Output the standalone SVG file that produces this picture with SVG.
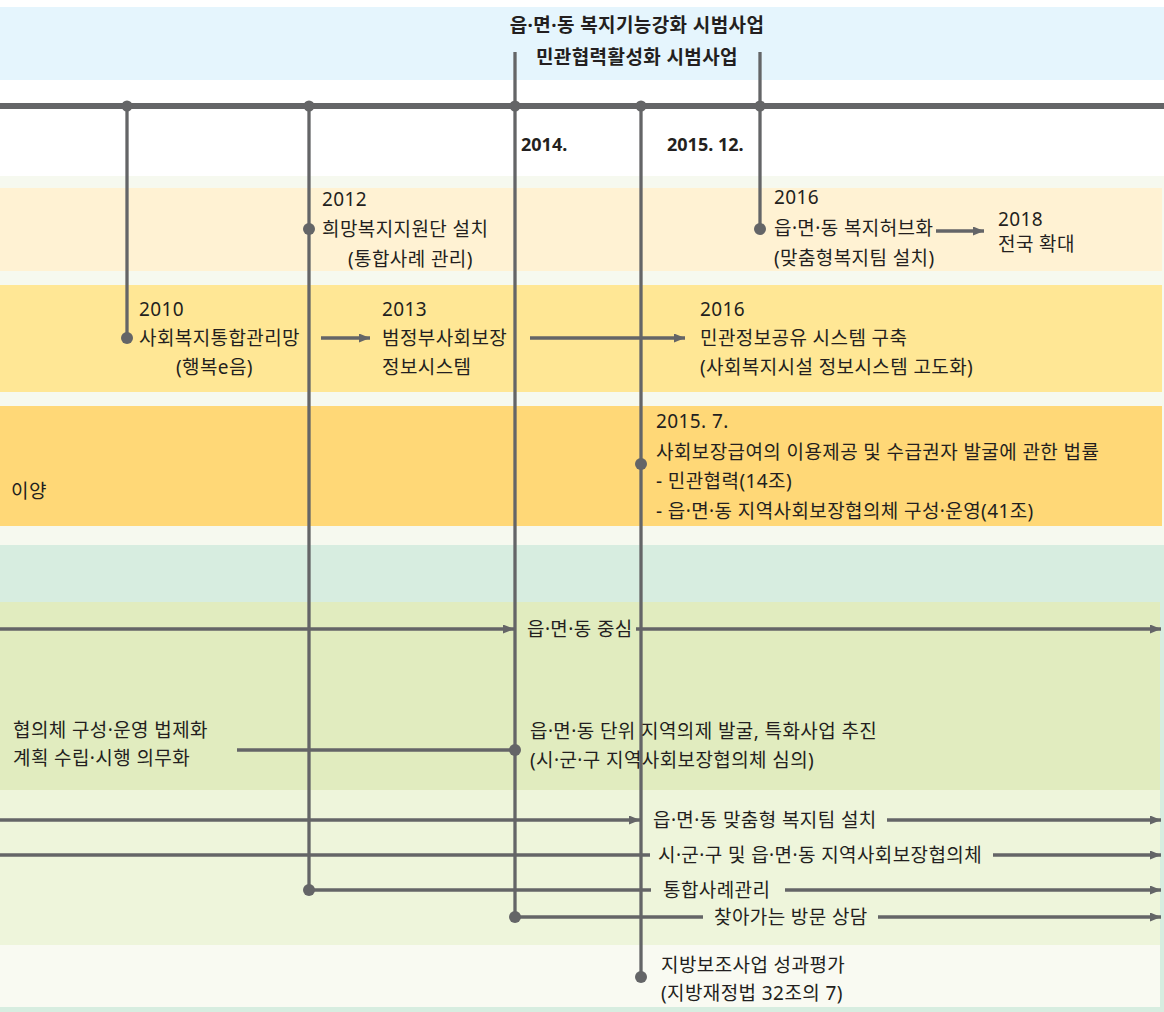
<svg xmlns="http://www.w3.org/2000/svg" width="1164" height="1012" viewBox="0 0 1164 1012">
<style>
text{font-family:"Noto Sans","Noto Sans CJK KR",sans-serif;font-size:19px;letter-spacing:0.4px;fill:#231f20}
.b{font-weight:bold}
.y{font-size:18px;letter-spacing:0}
.ln{stroke:#646567;stroke-width:3.3;fill:none}
.main{stroke:#646567;stroke-width:6;fill:none}
.dot{fill:#646567}
</style>
<defs>
<marker id="ah" markerUnits="userSpaceOnUse" markerWidth="12" markerHeight="10" refX="11" refY="4.5" orient="auto">
<path d="M0,0 L11,4.5 L0,9 z" fill="#646567"/>
</marker>
</defs>
<g id="background">
<rect x="0" y="0" width="1164" height="1012" fill="#ffffff"/>
<rect x="0" y="7" width="1164" height="73" fill="#e5f5fd"/>
<rect x="0" y="176" width="1164" height="369" fill="#f6f9ef"/>
<rect x="0" y="545" width="1164" height="467" fill="#d7ede0"/>
<rect x="0" y="188" width="1162" height="83" fill="#fff2d3"/>
<rect x="0" y="285" width="1162" height="107" fill="#ffe795"/>
<rect x="0" y="406" width="1162" height="120" fill="#ffd877"/>
<rect x="0" y="602" width="1160" height="188" fill="#e1ecbf"/>
<rect x="0" y="790" width="1160" height="155" fill="#eef5db"/>
<rect x="0" y="945" width="1160" height="62" fill="#f9faf2"/>
</g>
<g id="connectors">
<line class="main" x1="0" y1="106" x2="1164" y2="106"/>
<line class="ln" x1="127" y1="106" x2="127" y2="338"/>
<line class="ln" x1="309" y1="106" x2="309" y2="890"/>
<line class="ln" x1="515" y1="52" x2="515" y2="917"/>
<line class="ln" x1="641" y1="106" x2="641" y2="977"/>
<line class="ln" x1="760" y1="52" x2="760" y2="229"/>
<line class="ln" x1="321" y1="338" x2="370" y2="338" marker-end="url(#ah)"/>
<line class="ln" x1="530" y1="338" x2="685" y2="338" marker-end="url(#ah)"/>
<line class="ln" x1="936" y1="231" x2="984" y2="231" marker-end="url(#ah)"/>
<line class="ln" x1="0" y1="629" x2="514" y2="629" marker-end="url(#ah)"/>
<line class="ln" x1="636" y1="629" x2="1161" y2="629" marker-end="url(#ah)"/>
<line class="ln" x1="237" y1="750" x2="515" y2="750"/>
<line class="ln" x1="0" y1="820" x2="640" y2="820" marker-end="url(#ah)"/>
<line class="ln" x1="887" y1="820" x2="1161" y2="820" marker-end="url(#ah)"/>
<line class="ln" x1="0" y1="855" x2="650" y2="855"/>
<line class="ln" x1="993" y1="855" x2="1161" y2="855" marker-end="url(#ah)"/>
<line class="ln" x1="309" y1="890" x2="651" y2="890"/>
<line class="ln" x1="785" y1="890" x2="1161" y2="890" marker-end="url(#ah)"/>
<line class="ln" x1="515" y1="917" x2="703" y2="917"/>
<line class="ln" x1="878" y1="917" x2="1161" y2="917" marker-end="url(#ah)"/>
<circle class="dot" cx="127" cy="106" r="5.5"/>
<circle class="dot" cx="309" cy="106" r="5.5"/>
<circle class="dot" cx="515" cy="106" r="5.5"/>
<circle class="dot" cx="641" cy="106" r="5.5"/>
<circle class="dot" cx="760" cy="106" r="5.5"/>
<circle class="dot" cx="309" cy="229" r="6"/>
<circle class="dot" cx="760" cy="229" r="6"/>
<circle class="dot" cx="127" cy="338" r="6"/>
<circle class="dot" cx="641" cy="464" r="6"/>
<circle class="dot" cx="515" cy="750" r="6"/>
<circle class="dot" cx="309" cy="890" r="6"/>
<circle class="dot" cx="515" cy="917" r="6"/>
<circle class="dot" cx="641" cy="977" r="6"/>
</g>
<g id="title">
<text class="b" x="637" y="32" text-anchor="middle">읍·면·동 복지기능강화 시범사업</text>
<text class="b" x="637" y="64" text-anchor="middle">민관협력활성화 시범사업</text>
</g>
<g id="year-2014"><text class="b y" x="521" y="151">2014.</text></g>
<g id="year-2015-12"><text class="b y" x="667" y="151">2015. 12.</text></g>
<g id="node-2012">
<text x="322" y="206">2012</text>
<text x="322" y="236">희망복지지원단 설치</text>
<text x="348" y="266">(통합사례 관리)</text>
</g>
<g id="node-2016-hub">
<text x="774" y="204">2016</text>
<text x="774" y="235">읍·면·동 복지허브화</text>
<text x="774" y="265">(맞춤형복지팀 설치)</text>
</g>
<g id="node-2018">
<text x="998" y="226">2018</text>
<text x="998" y="251">전국 확대</text>
</g>
<g id="node-2010">
<text x="139" y="316">2010</text>
<text x="139" y="345">사회복지통합관리망</text>
<text x="176" y="374">(행복e음)</text>
</g>
<g id="node-2013">
<text x="382" y="316">2013</text>
<text x="382" y="345">범정부사회보장</text>
<text x="382" y="374">정보시스템</text>
</g>
<g id="node-2016-info">
<text x="700" y="316">2016</text>
<text x="700" y="345">민관정보공유 시스템 구축</text>
<text x="700" y="374">(사회복지시설 정보시스템 고도화)</text>
</g>
<g id="node-transfer"><text x="11" y="498">이양</text></g>
<g id="node-2015-7">
<text x="656" y="428">2015. 7.</text>
<text x="656" y="459">사회보장급여의 이용제공 및 수급권자 발굴에 관한 법률</text>
<text x="656" y="488">- 민관협력(14조)</text>
<text x="656" y="518">- 읍·면·동 지역사회보장협의체 구성·운영(41조)</text>
</g>
<g id="node-center"><text x="527" y="636">읍·면·동 중심</text></g>
<g id="node-law">
<text x="13" y="737">협의체 구성·운영 법제화</text>
<text x="13" y="765">계획 수립·시행 의무화</text>
</g>
<g id="node-agenda">
<text x="530" y="738">읍·면·동 단위 지역의제 발굴, 특화사업 추진</text>
<text x="530" y="767">(시·군·구 지역사회보장협의체 심의)</text>
</g>
<g id="node-team"><text x="653" y="827">읍·면·동 맞춤형 복지팀 설치</text></g>
<g id="node-council"><text x="658" y="862">시·군·구 및 읍·면·동 지역사회보장협의체</text></g>
<g id="node-case"><text x="663" y="897">통합사례관리</text></g>
<g id="node-visit"><text x="714" y="924">찾아가는 방문 상담</text></g>
<g id="node-eval">
<text x="661" y="972">지방보조사업 성과평가</text>
<text x="661" y="1000">(지방재정법 32조의 7)</text>
</g>
</svg>
